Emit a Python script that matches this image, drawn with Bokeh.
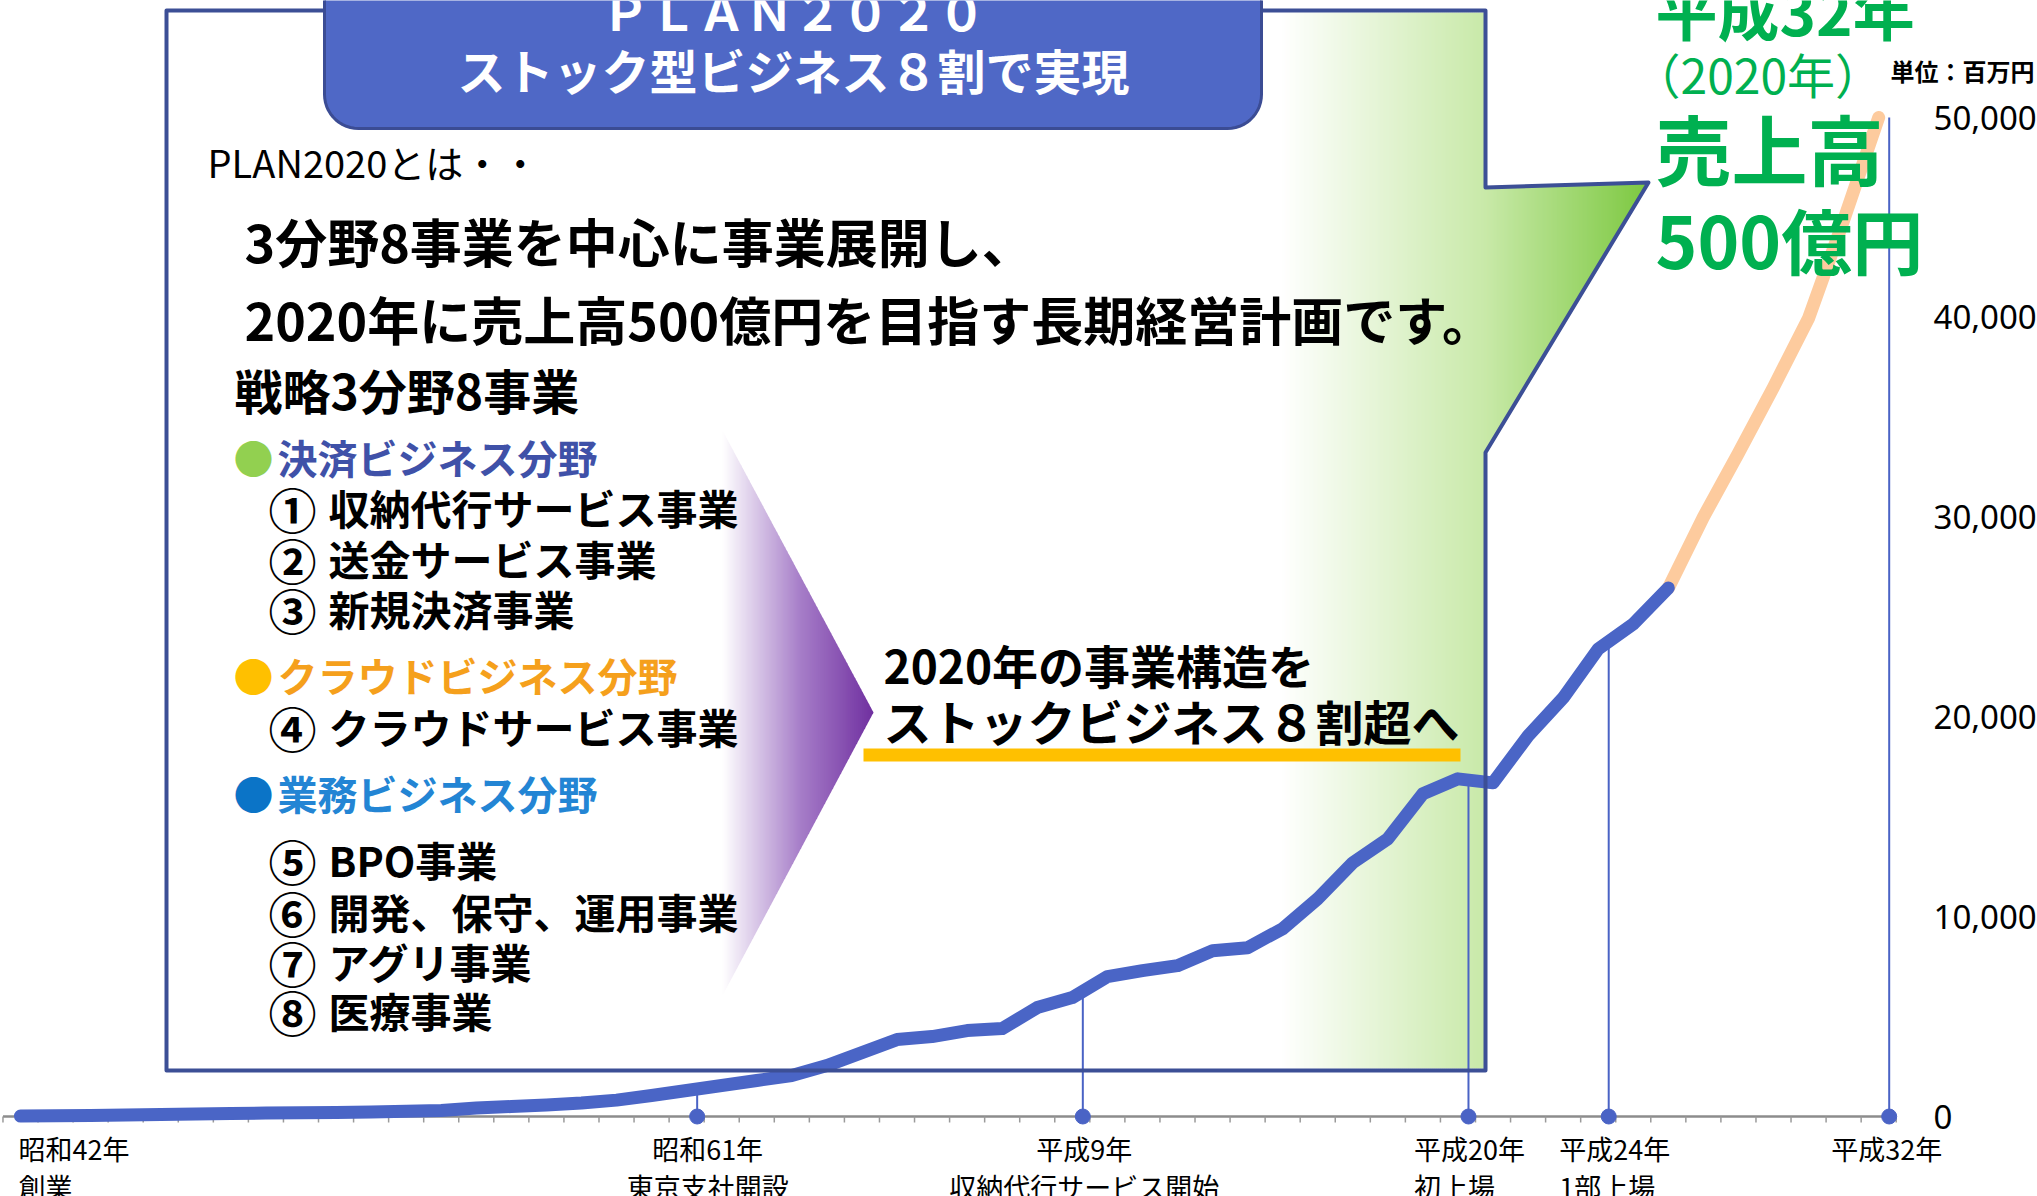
import numpy as np
from bokeh.plotting import figure
from bokeh.models import Range1d
from bokeh.core.properties import value
from bokeh.embed import file_html
from bokeh.resources import INLINE

# ---------------- data ----------------
years = list(range(1967, 2015))
sales = [20, 35, 55, 80, 100, 125, 150, 170, 185, 200, 230, 265, 300,
         420, 500, 580, 680, 820, 1050, 1300, 1550, 1800, 2050, 2550,
         3200, 3850, 4000, 4300, 4400, 5450, 5950, 7000, 7300, 7550,
         8300, 8450, 9400, 10900, 12700, 13900, 16150, 16900, 16700,
         19050, 20950, 23400, 24650, 26450]
plan_years = [2014, 2015, 2016, 2017, 2018, 2019, 2020]
plan_sales = [26450, 30000, 33200, 36500, 39950, 44850, 50000]
y_ticks = [0, 10000, 20000, 30000, 40000, 50000]
milestone_years = [1986, 1997, 2008, 2012, 2020]
label_years = [1967, 1986, 1997, 2008, 2012, 2020]
label_line1 = ["昭和42年", "昭和61年", "平成9年", "平成20年", "平成24年", "平成32年"]
label_line2 = ["創業", "東京支社開設", "収納代行サービス開始", "初上場", "1部上場", ""]

# ---------------- layout ----------------
W, H = 2037, 1196
M = 0
X_PX_1967, PX_PER_YEAR = 20.0, 35.06
Y_PX_ZERO, PX_PER_UNIT = 1116.0, 999.0 / 50000


def sx_to_year(sx):
    return 1967 + (sx - X_PX_1967) / PX_PER_YEAR


def sy_to_val(sy):
    return (Y_PX_ZERO - sy) / PX_PER_UNIT


p = figure(width=W, height=H, output_backend="svg", toolbar_location=None,
           x_range=Range1d(sx_to_year(M), sx_to_year(M + W)),
           y_range=Range1d(sy_to_val(M + H), sy_to_val(M)),
           x_axis_type=None, y_axis_type=None, min_border=0,
           outline_line_color=None, background_fill_color="white",
           border_fill_color="white")
p.extra_x_ranges = {"px": Range1d(M, M + W)}
p.extra_y_ranges = {"py": Range1d(M + H, M)}
PX = dict(x_range_name="px", y_range_name="py")

JP = value("Noto Sans CJK JP")


def hex2rgb(h):
    h = h.lstrip("#")
    return [int(h[i:i + 2], 16) for i in (0, 2, 4)]


def grad(stops, x):
    for (x0, c0), (x1, c1) in zip(stops[:-1], stops[1:]):
        if x <= x1:
            t = max(0.0, min(1.0, (x - x0) / (x1 - x0)))
            a, b = hex2rgb(c0), hex2rgb(c1)
            return "#%02x%02x%02x" % tuple(int(round(a[i] + (b[i] - a[i]) * t)) for i in range(3))
    return stops[-1][1]


# ---------------- green gradient inside box + arrow ----------------
green_stops = [(1280, "#ffffff"), (1485, "#c8e9a8"), (1648, "#7cc840")]
gx = np.arange(1280, 1485, 2)
p.quad(left=gx, right=gx + 2.6, top=12, bottom=1068,
       fill_color=[grad(green_stops, x + 1) for x in gx], line_color=None, **PX)

ax = np.arange(1485, 1648, 2.0)


def a_top(x):
    return 187 + (x - 1485) * (182 - 187) / 163.0


def a_bot(x):
    return 452 + (x - 1485) * (182 - 452) / 163.0


xs_list, ys_list, cols = [], [], []
for x in ax:
    x1 = min(x + 2.6, 1648)
    xs_list.append([x, x1, x1, x])
    ys_list.append([a_top(x), a_top(x1), a_bot(x1), a_bot(x)])
    cols.append(grad(green_stops, x + 1))
p.patches(xs_list, ys_list, fill_color=cols, line_color=None, **PX)

# ---------------- purple chevron ----------------
purple_stops = [(722, "#ffffff"), (800, "#a67dc8"), (873, "#7030a0")]
pxs = np.arange(722, 873, 2.0)
xs_list, ys_list, cols = [], [], []
for x in pxs:
    x1 = min(x + 2.6, 873)
    t0 = 430 + (x - 722) * 282 / 151.0
    t1 = 430 + (x1 - 722) * 282 / 151.0
    b0 = 995 - (x - 722) * 283 / 151.0
    b1 = 995 - (x1 - 722) * 283 / 151.0
    xs_list.append([x, x1, x1, x])
    ys_list.append([t0, t1, b1, b0])
    cols.append(grad(purple_stops, x + 1))
p.patches(xs_list, ys_list, fill_color=cols, line_color=None, **PX)

# ---------------- x axis ----------------
p.segment(x0=[1966.5], y0=[0], x1=[2020.5], y1=[0], line_color="#8c8c8c", line_width=2.5)
tick_x = [1966.5 + k for k in range(55)]
p.segment(x0=tick_x, y0=[0] * len(tick_x), x1=tick_x, y1=[-6 / PX_PER_UNIT] * len(tick_x),
          line_color="#9a9a9a", line_width=1.5)

# milestone drop lines & markers
all_years = years + plan_years[1:]
all_sales = sales + plan_sales[1:]
mx = [y + 0.3 for y in milestone_years]
my = [float(np.interp(x, all_years, all_sales)) for x in mx]
p.segment(x0=mx, y0=[0] * len(mx), x1=mx, y1=my, line_color="#4a63c5", line_width=2)
p.scatter(x=mx, y=[0] * len(mx), size=15, fill_color="#4a63c5", line_color="#4a63c5")

# ---------------- sales lines ----------------
p.line(plan_years, plan_sales, line_color="#fdcb9e", line_width=13,
       line_cap="round", line_join="round")
p.line(years, sales, line_color="#4a65c6", line_width=13,
       line_cap="round", line_join="round")

# ---------------- box outline ----------------
box_x = [166, 1485, 1485, 1648, 1485, 1485, 166]
box_y = [10, 10, 187, 182, 452, 1070, 1070]
p.patch(box_x, box_y, fill_color=None, line_color="#3c4f96", line_width=4,
        line_join="round", **PX)

# ---------------- title tab ----------------
def rounded_tab(x0, x1, ytop, ybot, r):
    xs = [x0, x1, x1]
    ys = [ytop, ytop, ybot - r]
    for a in np.linspace(0, np.pi / 2, 14):
        xs.append(x1 - r + r * np.cos(a)); ys.append(ybot - r + r * np.sin(a))
    for a in np.linspace(np.pi / 2, np.pi, 14):
        xs.append(x0 + r + r * np.cos(a)); ys.append(ybot - r + r * np.sin(a))
    return xs, ys


tx, ty = rounded_tab(324, 1261, -30, 128, 34)
p.patch(tx, ty, fill_color="#4f68c6", line_color="#3b4c94", line_width=3, **PX)
p.text(x=[793], y=[9], text=["ＰＬＡＮ２０２０"], text_font=JP, text_font_size="48px",
       text_font_style="bold", text_color="white", text_align="center",
       text_baseline="middle", **PX)
p.text(x=[793], y=[68], text=["ストック型ビジネス８割で実現"], text_font=JP,
       text_font_size="48px", text_font_style="bold", text_color="white",
       text_align="center", text_baseline="middle", **PX)

# ---------------- left text block ----------------
def txt(x, y, s, size, color="black", bold=True, align="left", font=JP):
    p.text(x=[x], y=[y], text=[s], text_font=font, text_font_size=size,
           text_font_style="bold" if bold else "normal", text_color=color,
           text_align=align, text_baseline="middle", **PX)


txt(207, 161, "PLAN2020とは・・", "38px", bold=False)
txt(244, 240, "3分野8事業を中心に事業展開し、", "52px")
txt(244, 318, "2020年に売上高500億円を目指す長期経営計画です。", "52px")
txt(234, 388, "戦略3分野8事業", "48px")

cats = [("決済ビジネス分野", "#92d050", "#3f51a8", 456),
        ("クラウドビジネス分野", "#ffc000", "#f5a01c", 674),
        ("業務ビジネス分野", "#0b74c7", "#2385d4", 792)]
for name, bc, tc, y in cats:
    txt(233, y, "●", "40px", color=bc)
    txt(277, y, name, "40px", color=tc)

items = [("①", "収納代行サービス事業", 506), ("②", "送金サービス事業", 557),
         ("③", "新規決済事業", 607), ("④", "クラウドサービス事業", 725),
         ("⑤", "BPO事業", 858), ("⑥", "開発、保守、運用事業", 910),
         ("⑦", "アグリ事業", 960), ("⑧", "医療事業", 1009)]
for num, s, y in items:
    txt(268, y + 1, num, "48px", bold=True)
    txt(328, y, s, "41px")

# ---------------- middle message ----------------
txt(883, 663, "2020年の事業構造を", "46px")
txt(883, 719, "ストックビジネス８割超へ", "48px")
p.quad(left=[863], right=[1460], top=[748], bottom=[761], fill_color="#ffc000",
       line_color=None, **PX)

# ---------------- green target text ----------------
G = "#00b050"
txt(1655, 8, "平成32年", "62px", color=G)
txt(1632, 72, "（2020年）", "48px", color=G, bold=False)
txt(1655, 146, "売上高", "76px", color=G)
txt(1655, 237, "500億円", "71px", color=G)
txt(1890, 70, "単位：百万円", "24px")

# ---------------- y tick labels ----------------
p.text(x=[1933] * len(y_ticks), y=y_ticks, text=[f"{v:,}" for v in y_ticks],
       text_font=value("Noto Sans"), text_font_size="33px", text_color="black",
       text_align="left", text_baseline="middle", x_range_name="px")

# ---------------- x labels ----------------
offsets = [-2, 21, 12, -44, -39, 8]
aligns = ["left", "center", "center", "left", "left", "center"]
for yr, l1, l2, off, al in zip(label_years, label_line1, label_line2, offsets, aligns):
    for s, yy in ((l1, 1148), (l2, 1186)):
        if s:
            p.text(x=[yr], y=[yy], text=[s], text_font=JP, text_font_size="27px",
                   text_color="black", text_align=al, text_baseline="middle",
                   x_offset=off, y_range_name="py")

open("out.html", "w").write(file_html(p, INLINE))
